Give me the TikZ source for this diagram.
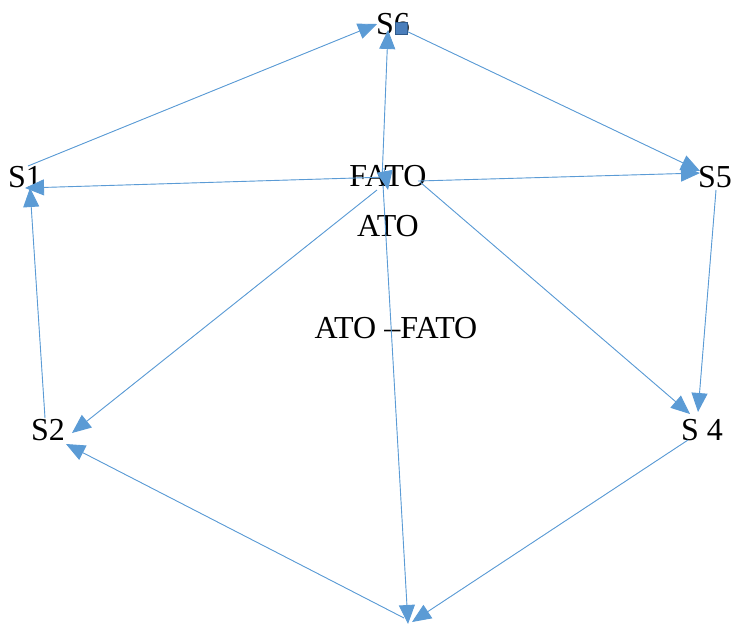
\documentclass[tikz,border=0pt]{standalone}
\usepackage{fontspec}
\setmainfont{Liberation Serif}
\usetikzlibrary{arrows.meta}
\definecolor{lineblue}{HTML}{5B9BD5}
\definecolor{sqfill}{HTML}{4A7EBB}
\definecolor{sqdraw}{HTML}{2F5A8A}
\begin{document}
\begin{tikzpicture}[x=1pt,y=-1pt,
  lbl/.style={anchor=base,inner sep=0pt,font=\fontsize{32}{34}\selectfont},
  conn/.style={draw=lineblue,line width=0.9pt,-{Triangle[length=19pt,width=16pt]},fill=lineblue}]
\useasboundingbox (0,0) rectangle (731,625);
% labels
\node[lbl] (s6) at (393,34) {S6};
\node[lbl] (s1) at (25,187) {S1};
\node[lbl] (fato) at (388,186) {FATO};
\node[lbl] (ato) at (388,236) {ATO};
\node[lbl] (s5) at (715,187) {S5};
\node[lbl] (s2) at (48,440) {S2};
\node[lbl] (s4) at (702,440) {S 4};
\node[lbl] (atofato) at (396,338) {ATO --FATO};
% endpoints
\coordinate (s1top) at (28,166);
\coordinate (s1in) at (25,188);
\coordinate (s1bot) at (30,188);
\coordinate (s6in) at (377,24);
\coordinate (s6top) at (388,30);
\coordinate (s6out) at (402,29);
\coordinate (s5in) at (700,171);
\coordinate (s5in2) at (700,173);
\coordinate (s5out) at (716,190);
\coordinate (fc) at (382,180);
\coordinate (fl) at (388,177);
\coordinate (fr) at (420,182);
\coordinate (fr2) at (418,181);
\coordinate (fdl) at (377,190);
\coordinate (fdn) at (383,185);
\coordinate (fmark0) at (384,168);
\coordinate (fmark) at (388,190);
\coordinate (s4in) at (690,414);
\coordinate (s4in2) at (698,412);
\coordinate (s4out) at (688,440);
\coordinate (s2in) at (72,433);
\coordinate (s2in2) at (66,444);
\coordinate (s2out) at (45,418);
\coordinate (bot) at (408,624);
\coordinate (botin) at (412,622);
\coordinate (botout) at (404,618);
% connectors
\draw[conn] (s1top) -- (s6in);
\draw[conn] (s6out) -- (s5in);
\draw[conn] (fc) -- (s6top);
\draw[conn] (fmark0) -- (fmark);
\draw[conn] (fl) -- (s1in);
\draw[conn] (fr2) -- (s5in2);
\draw[conn] (fdl) -- (s2in);
\draw[conn] (fr) -- (s4in);
\draw[conn] (s5out) -- (s4in2);
\draw[conn] (s4out) -- (botin);
\draw[conn] (fdn) -- (bot);
\draw[conn] (botout) -- (s2in2);
\draw[conn] (s2out) -- (s1bot);
% square marker at S6
\node[draw=sqdraw,fill=sqfill,minimum size=12pt,inner sep=0pt,line width=0.6pt] (sq) at (401,28) {};
\end{tikzpicture}
\end{document}
